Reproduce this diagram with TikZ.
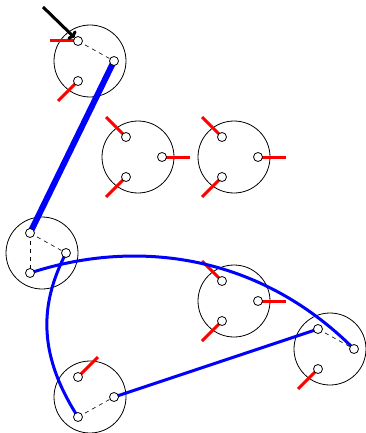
\documentclass[tikz,border=0pt]{standalone}
\usetikzlibrary{arrows.meta}
\begin{document}
\begin{tikzpicture}[x=1pt,y=-1pt,
 big/.style={draw, circle, minimum size=72pt, inner sep=0pt, line width=0.8pt},
 port/.style={draw, circle, fill=white, minimum size=9pt, inner sep=0pt, line width=0.8pt},
 link/.style={dash pattern=on 4pt off 4pt, line width=0.6pt},
 pin/.style={red, line width=3pt},
 wire/.style={blue, line width=3pt},
 bus/.style={blue, line width=6pt},
 pointer/.style={black, line width=3pt, -{To[length=5pt,width=12pt]}}]
\useasboundingbox (0,0) rectangle (365,433);
\foreach \n/\x/\y in {1/90/61,2/138/157,3/234/157,4/42/253,5/234/301,6/330/349,7/90/397}{
  \node[big] (u\n) at (\x,\y) {};
  \coordinate (u\n a) at (\x-12,\y-20);
  \coordinate (u\n b) at (\x+24,\y);
  \coordinate (u\n c) at (\x-12,\y+20);
}
% dashed links
\draw[link] (u1a) -- (u1b);
\draw[link] (u4a) -- (u4b);
\draw[link] (u4a) -- (u4c);
\draw[link] (u6a) -- (u6b);
\draw[link] (u7c) -- (u7b);
% red pins
\draw[pin] (u1a) -- ++(-28,0);
\draw[pin] (u1c) -- ++(-20,20);
\draw[pin] (u2a) -- ++(-20,-20);
\draw[pin] (u2b) -- ++(28,0);
\draw[pin] (u2c) -- ++(-20,20);
\draw[pin] (u3a) -- ++(-20,-20);
\draw[pin] (u3b) -- ++(28,0);
\draw[pin] (u3c) -- ++(-20,20);
\draw[pin] (u5a) -- ++(-20,-20);
\draw[pin] (u5b) -- ++(28,0);
\draw[pin] (u5c) -- ++(-20,20);
\draw[pin] (u6c) -- ++(-20,20);
\draw[pin] (u7a) -- ++(20,-20);
% blue connections
\draw[bus] (u1b) -- (u4a);
\draw[wire] (u4c) .. controls (130,240) and (255,250) .. (u6b);
\draw[wire] (u4b) .. controls (42,300) and (35,350) .. (u7c);
\draw[wire] (u6a) -- (u7b);
% ports
\foreach \n in {1,...,7}{
  \foreach \p in {a,b,c}{
    \node[port] (p\n\p) at (u\n\p) {};
  }
}
\coordinate (start) at (43,7);
\draw[pointer] (start) -- (p1a);
\end{tikzpicture}
\end{document}
